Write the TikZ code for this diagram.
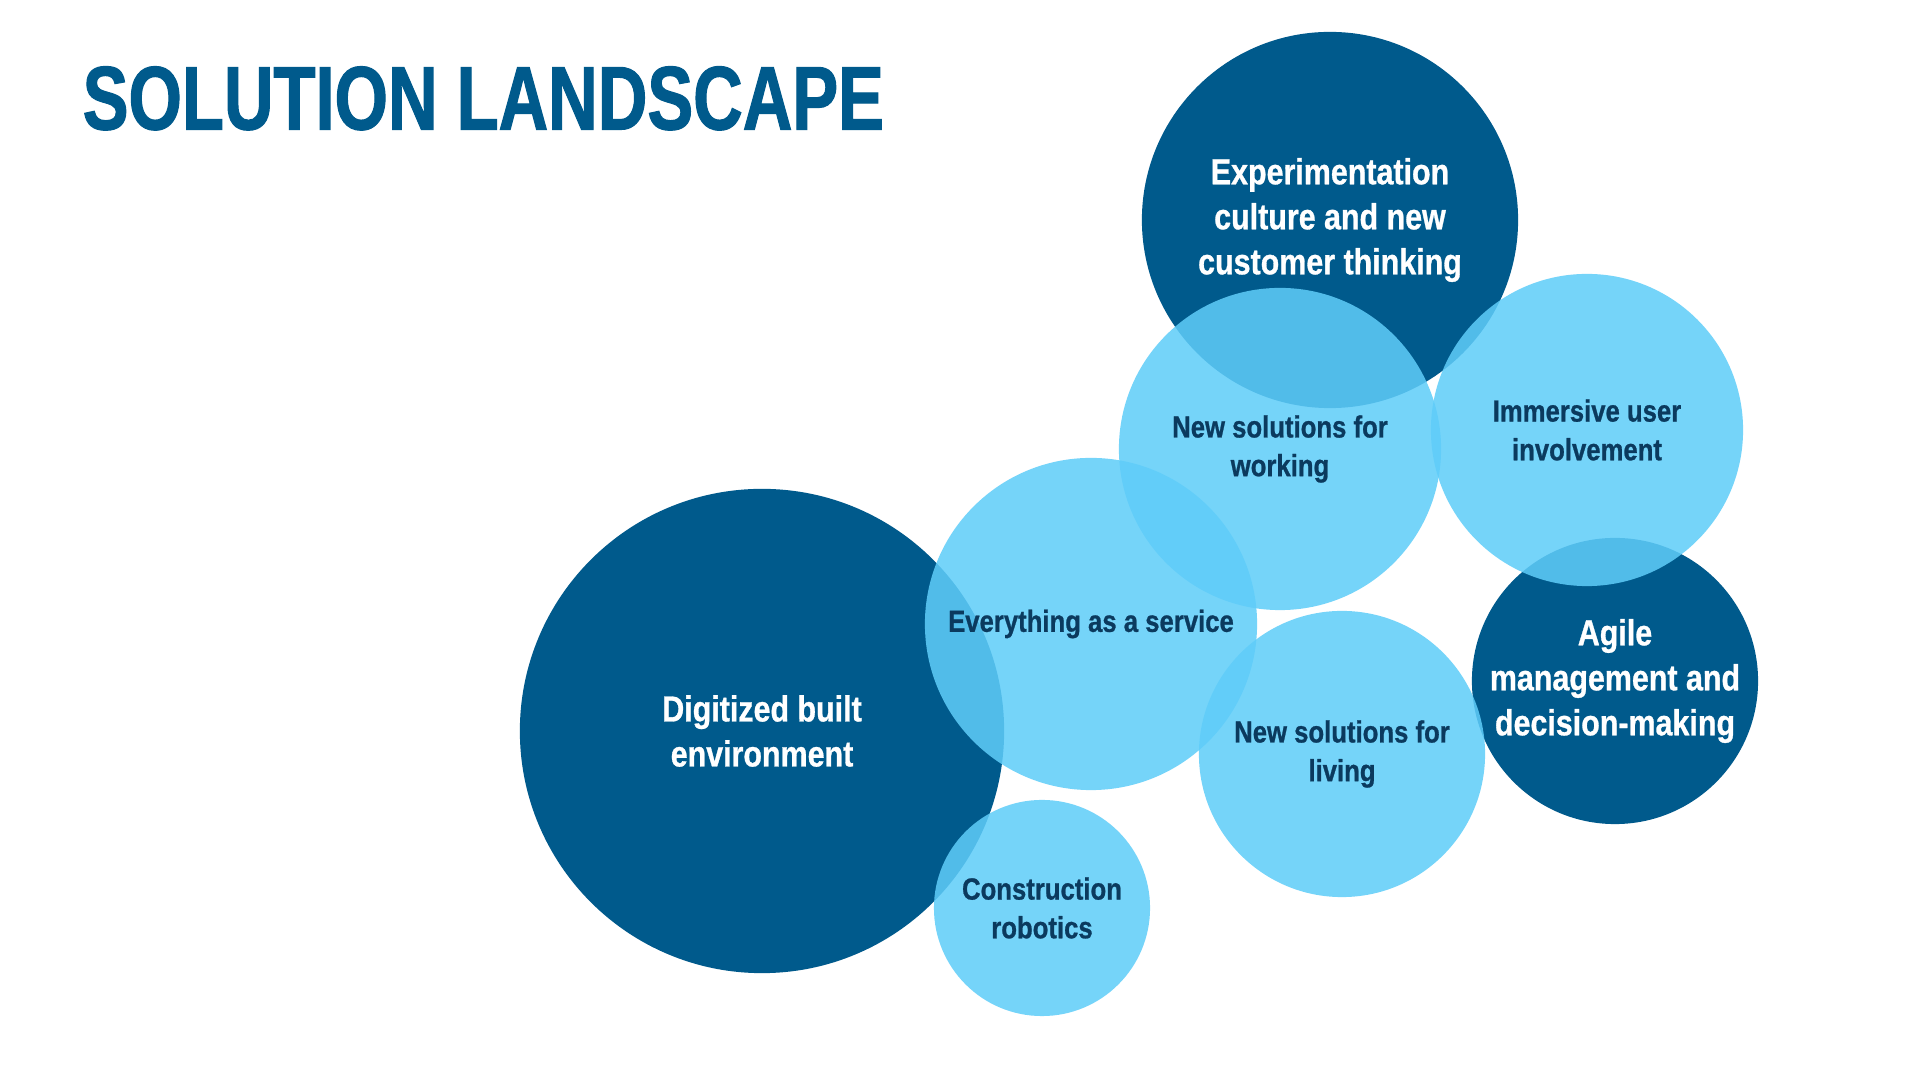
\documentclass[tikz,border=0pt]{standalone}
\usepackage{fontspec}
\setmainfont{Liberation Sans}[FakeStretch=0.84,FakeBold=0.8]
\newfontfamily\titlefont{Liberation Sans}[FakeStretch=0.76,FakeBold=1.2]
\definecolor{deepblue}{HTML}{005A8C}
\definecolor{skyblue}{HTML}{5FCDF9}
\definecolor{inkblue}{HTML}{0B3A5E}
\tikzset
{
	my dark/.style={circle,fill=deepblue,inner sep=0pt,outer sep=0pt,align=center,
		text=white,font=\bfseries\fontsize{10.3}{12.8}\selectfont},
	my light/.style={circle,fill=skyblue,fill opacity=0.86,text opacity=1,inner sep=0pt,
		outer sep=0pt,align=center,text=inkblue,font=\bfseries\fontsize{8.7}{11}\selectfont},
	my title/.style={anchor=base west,inner sep=0pt,text=deepblue,
		font=\titlefont\bfseries\fontsize{25.7}{30}\selectfont}
}

\begin{document}
\begin{tikzpicture}[x=0.01cm,y=-0.01cm]
		% canvas
		\useasboundingbox[fill=white] (0,0) rectangle (1920,1080);
		% title
		\node[my title] (title) at (82,129.5) {SOLUTION LANDSCAPE};
		% dark circles
		\node[my dark,minimum size=3.76cm] (culture) at (1330,220)
		{Experimentation\\culture and new\\customer thinking};
		\node[my dark,minimum size=4.84cm] (built) at (762,731)
		{Digitized built\\environment};
		\node[my dark,minimum size=2.86cm] (agile) at (1615,681)
		{Agile\\management and\\decision-making};
		% light circles
		\node[my light,minimum size=3.22cm] (working) at (1280,449)
		{New solutions for\\working};
		\node[my light,minimum size=3.12cm] (users) at (1587,430)
		{Immersive user\\involvement};
		\node[my light,minimum size=3.32cm] (service) at (1091,624)
		{Everything as a service};
		\node[my light,minimum size=2.86cm] (living) at (1342,754)
		{New solutions for\\living};
		\node[my light,minimum size=2.16cm] (robotics) at (1042,908)
		{Construction\\robotics};
	\end{tikzpicture}
\end{document}
